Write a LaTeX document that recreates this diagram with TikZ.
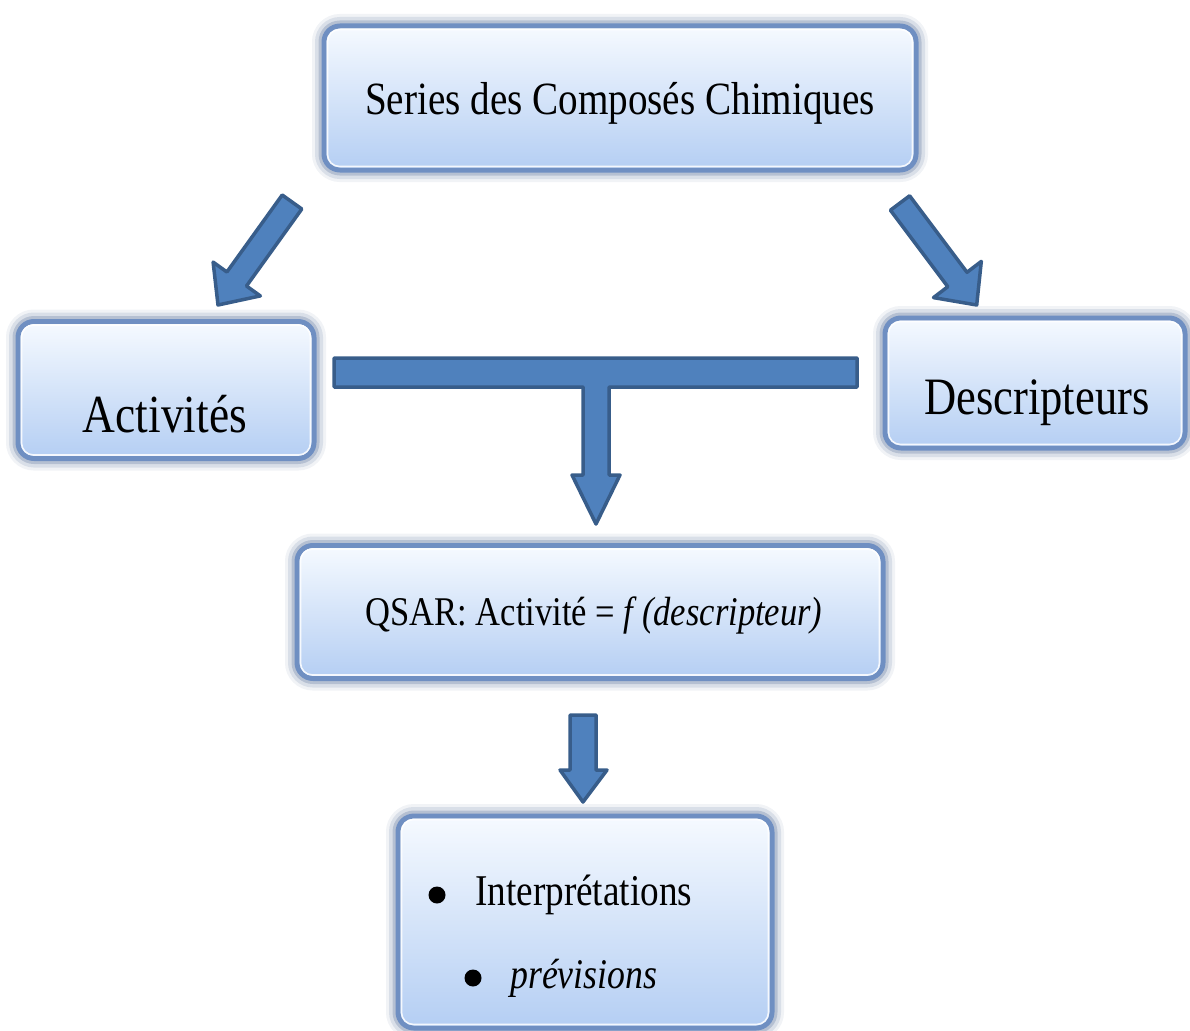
\documentclass[tikz,border=0pt]{standalone}
\usepackage{fontspec}
\setmainfont{Liberation Serif}
\usetikzlibrary{calc}
\definecolor{arrfill}{HTML}{4F81BD}
\definecolor{arrline}{HTML}{385D8A}
\definecolor{boxtop}{HTML}{F6FAFF}
\definecolor{boxbot}{HTML}{B4CEF3}
\definecolor{boxline}{HTML}{6F8FC2}
\definecolor{glowc}{HTML}{4A6490}
\newcommand\fitw[2]{\scalebox{1}[1.18]{\resizebox{#1}{!}{#2}}}
\tikzset{
  qbox/.style={rectangle, rounded corners=16pt, top color=boxtop, bottom color=boxbot,
    draw=boxline, line width=5pt, inner sep=0pt,
    preaction={draw=glowc, line width=24pt, opacity=0.08},
    preaction={draw=glowc, line width=18pt, opacity=0.14},
    preaction={draw=glowc, line width=11pt, opacity=0.25}},
  hl/.style={draw=white, opacity=0.85, line width=1.6pt, rounded corners=12pt},
  blockarrow/.style={fill=arrfill, draw=arrline, line width=3.5pt, line join=round},
  txt/.style={inner sep=0pt, text=black, font=\fontsize{30}{34}\selectfont},
}
\begin{document}
\begin{tikzpicture}[x=1pt,y=-1pt]
\useasboundingbox (0,0) rectangle (1190,1030);
% boxes
\node[qbox, minimum width=592pt, minimum height=144pt] (top) at (620,98) {};
\node[qbox, minimum width=296pt, minimum height=137pt] (act) at (166,390) {};
\node[qbox, minimum width=300pt, minimum height=130pt] (desc) at (1035,383) {};
\node[qbox, minimum width=586pt, minimum height=133pt] (qsar) at (590,612) {};
\node[qbox, minimum width=374pt, minimum height=212pt] (res) at (585,922) {};
\foreach \n in {top,act,desc,qsar,res}{
  \draw[hl] ([shift={(6,6)}]\n.north west) rectangle ([shift={(-6,-6)}]\n.south east);
}
% texts
\node[txt] (topT) at (620,103) {\fitw{510pt}{Series des Composés Chimiques}};
\node[txt] (actT) at (165,414) {\fitw{164pt}{Activités}};
\node[txt] (descT) at (1037,403) {\fitw{225pt}{Descripteurs}};
\node[txt] (qsarT) at (594,615) {\fitw{457pt}{QSAR: Activité = \textit{f (descripteur)}}};
\node[txt, anchor=west] (r1) at (475,895) {\fitw{217pt}{Interprétations}};
\node[txt, anchor=west] (r2) at (510,978) {\fitw{147pt}{\itshape prévisions}};
\fill (437,895) circle (8.5pt);
\fill (473,978) circle (8.5pt);
% arrows
\draw[blockarrow] (301.8,209) -- (246.5,286.0) -- (260.3,295.9) -- (218,305) -- (213.1,262.1) -- (226.9,272.0) -- (282.2,195) -- cycle;
\draw[blockarrow] (890.4,210.2) -- (947.8,286.7) -- (933.5,297.6) -- (976.7,305) -- (981.3,261.4) -- (967,272.3) -- (909.6,195.8) -- cycle;
\draw[blockarrow] (334,358) -- (857,358) -- (857,387) -- (609,387) -- (609,475) -- (620,475) -- (596,524) -- (572,475) -- (583,475) -- (583,387) -- (334,387) -- cycle;
\draw[blockarrow] (570,715) -- (596,715) -- (596,770) -- (607,770) -- (583,802) -- (560,770) -- (570,770) -- cycle;
\end{tikzpicture}
\end{document}
